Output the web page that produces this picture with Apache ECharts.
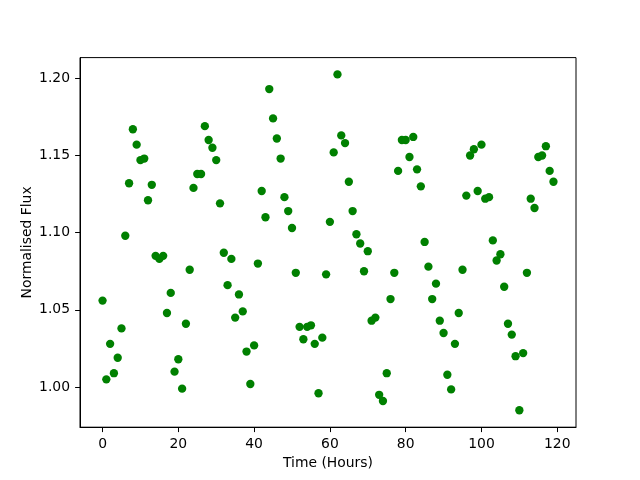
<!DOCTYPE html>
<html>
<head>
<meta charset="utf-8">
<script src="https://cdn.jsdelivr.net/npm/echarts@6/dist/echarts.min.js"></script>
<style>html,body{margin:0;padding:0;background:#fff}#c{width:640px;height:480px}</style>
</head>
<body>
<div id="c"></div>
<script>
const hours = [];
for (let i = 0; i < 120; i++) hours.push(i);
const flux = [
1.056,1.005,1.028,1.009,1.019,1.038,1.098,1.132,1.167,1.157,
1.147,1.148,1.121,1.131,1.085,1.083,1.085,1.048,1.061,1.010,
1.018,0.999,1.041,1.076,1.129,1.138,1.138,1.169,1.160,1.155,
1.147,1.119,1.087,1.066,1.083,1.045,1.060,1.049,1.023,1.002,
1.027,1.080,1.127,1.110,1.193,1.174,1.161,1.148,1.123,1.114,
1.103,1.074,1.039,1.031,1.039,1.040,1.028,0.996,1.032,1.073,
1.107,1.152,1.2025,1.163,1.158,1.133,1.114,1.099,1.093,1.075,
1.088,1.043,1.045,0.995,0.991,1.009,1.057,1.074,1.140,1.160,
1.160,1.149,1.162,1.141,1.130,1.094,1.078,1.057,1.067,1.043,
1.035,1.008,0.9985,1.028,1.048,1.076,1.124,1.150,1.154,1.127,
1.157,1.122,1.123,1.095,1.082,1.086,1.065,1.041,1.034,1.020,
0.985,1.022,1.074,1.122,1.116,1.149,1.150,1.156,1.140,1.133
];
const xTicks = [0,20,40,60,80,100,120];
const yTicks = [1.00,1.05,1.10,1.15,1.20];

const points = hours.map((h,i)=>[h, flux[i]]);
const font = 'DejaVu Sans';
const chart = echarts.init(document.getElementById('c'), null, {renderer:'canvas'});
chart.setOption({
  animation:false,
  backgroundColor:'#fff',
  grid:{left:80, right:64, top:57.6, bottom:52.8, show:true, borderColor:'#000', borderWidth:1, backgroundColor:'transparent'},
  xAxis:{
    type:'value', min:-5.95, max:124.95,
    name:'Time (Hours)', nameLocation:'middle', nameGap:29, nameMoveOverlap:false,
    nameTextStyle:{fontFamily:font, fontSize:13.9, color:'#000'},
    axisLine:{show:true, onZero:false, lineStyle:{color:'#000', width:1}},
    axisTick:{show:true, length:4.9, inside:false, lineStyle:{color:'#000', width:1}, customValues:xTicks},
    axisLabel:{fontFamily:font, fontSize:13.9, color:'#000', margin:10, customValues:xTicks, formatter:v=>String(v)},
    splitLine:{show:false}
  },
  yAxis:{
    type:'value', min:0.97402, max:1.21338,
    name:'Normalised Flux', nameLocation:'middle', nameGap:46, nameRotate:90, nameMoveOverlap:false,
    nameTextStyle:{fontFamily:font, fontSize:13.9, color:'#000'},
    axisLine:{show:true, onZero:false, lineStyle:{color:'#000', width:1}},
    axisTick:{show:true, length:4.9, inside:false, lineStyle:{color:'#000', width:1}, customValues:yTicks},
    axisLabel:{fontFamily:font, fontSize:13.9, color:'#000', margin:10, customValues:yTicks, formatter:v=>v.toFixed(2)},
    splitLine:{show:false}
  },
  series:[{
    type:'scatter', data:points, symbol:'circle', symbolSize:8.33,
    itemStyle:{color:'#008000', opacity:1},
    emphasis:{disabled:true}
  }]
});
</script>
</body>
</html>
